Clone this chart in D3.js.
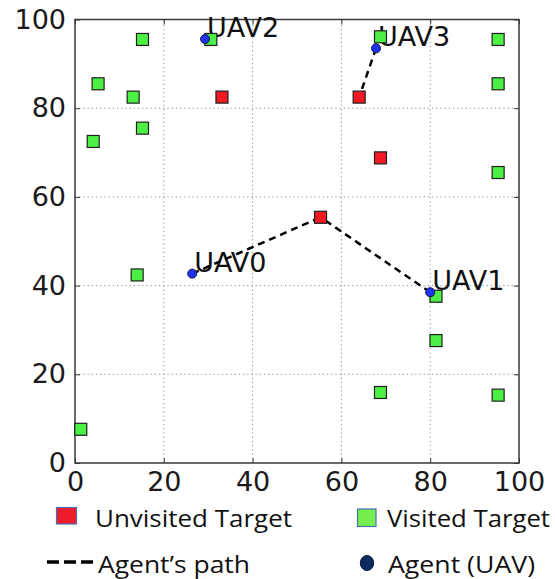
<!DOCTYPE html>
<html>
<head>
<meta charset="utf-8">
<script src="https://cdn.jsdelivr.net/npm/d3@7"></script>
<style>
  body { margin: 0; background: #fff; }
</style>
</head>
<body>
<div id="chart"></div>
<script>
// targets not yet visited
var unvisitedX = [33.1, 64.0, 68.8, 55.3];
var unvisitedY = [82.5, 82.5, 68.8, 55.4];

// targets already visited
var visitedX = [15.2, 30.6, 5.2, 13.1, 15.2, 4.1, 68.8, 95.3, 95.3, 95.3, 14.0, 1.3, 81.3, 81.3, 68.8, 95.3];
var visitedY = [95.5, 95.5, 85.5, 82.5, 75.5, 72.5, 96.1, 95.5, 85.5, 65.5, 42.4, 7.6, 37.6, 27.6, 15.9, 15.3];

// agents (UAVs)
var agentNames = ["UAV0", "UAV1", "UAV2", "UAV3"];
var agentX = [26.4, 80.0, 29.3, 67.8];
var agentY = [42.7, 38.5, 95.6, 93.5];

// planned paths: agent -> target
var pathFrom = [0, 1, 3];
var pathToX = [55.3, 55.3, 64.0];
var pathToY = [55.4, 55.4, 82.5];

var tickValues = [0, 20, 40, 60, 80, 100];
var legendLabels = ["Unvisited Target", "Visited Target", "Agent\u2019s path", "Agent (UAV)"];

var W = 555, H = 579;
var svg = d3.select("#chart").append("svg")
  .attr("width", W)
  .attr("height", H);

var x = d3.scaleLinear().domain([0, 100]).range([75, 519]);
var y = d3.scaleLinear().domain([0, 100]).range([463, 19.5]);

// grid
var grid = svg.append("g");
tickValues.slice(1, -1).forEach(function (t) {
  grid.append("line")
    .attr("x1", x(t)).attr("x2", x(t))
    .attr("y1", y(0)).attr("y2", y(100));
  grid.append("line")
    .attr("x1", x(0)).attr("x2", x(100))
    .attr("y1", y(t)).attr("y2", y(t));
});
grid.selectAll("line")
  .attr("stroke", "#8a8a8a")
  .attr("stroke-width", 1)
  .attr("stroke-dasharray", "1.2,3");

// axes, ticks pointing inward like old matplotlib
function styleAxis(g, showLabels) {
  g.select(".domain").remove();
  g.selectAll(".tick line").attr("stroke", "#333").attr("stroke-width", 1);
  g.selectAll("text")
    .style("font-family", "DejaVu Sans")
    .style("font-size", "27px")
    .attr("fill", "#1a1a1a");
  if (!showLabels) g.selectAll("text").remove();
}

svg.append("g")
  .attr("transform", "translate(0," + y(0) + ")")
  .call(d3.axisBottom(x).tickValues(tickValues).tickSizeInner(-5).tickSizeOuter(0).tickPadding(9))
  .call(styleAxis, true);
svg.append("g")
  .attr("transform", "translate(" + x(0) + ",0)")
  .call(d3.axisLeft(y).tickValues(tickValues).tickSizeInner(-5).tickSizeOuter(0).tickPadding(9))
  .call(styleAxis, true);
svg.append("g")
  .attr("transform", "translate(0," + y(100) + ")")
  .call(d3.axisTop(x).tickValues(tickValues).tickSizeInner(-5).tickSizeOuter(0))
  .call(styleAxis, false);
svg.append("g")
  .attr("transform", "translate(" + x(100) + ",0)")
  .call(d3.axisRight(y).tickValues(tickValues).tickSizeInner(-5).tickSizeOuter(0))
  .call(styleAxis, false);

svg.append("rect")
  .attr("x", x(0)).attr("y", y(100))
  .attr("width", x(100) - x(0))
  .attr("height", y(0) - y(100))
  .attr("fill", "none")
  .attr("stroke", "#3a3a3a")
  .attr("stroke-width", 1.5);

// agent labels
svg.append("g").selectAll("text")
  .data(agentNames)
  .enter()
  .append("text")
  .attr("x", function (d, i) { return x(agentX[i]); })
  .attr("y", function (d, i) { return y(agentY[i]); })
  .attr("dx", 2)
  .attr("dy", -2)
  .style("font-family", "DejaVu Sans")
  .style("font-size", "27px")
  .attr("fill", "#111")
  .text(function (d) { return d; });

// paths
svg.append("g").selectAll("line")
  .data(pathFrom)
  .enter()
  .append("line")
  .attr("x1", function (d) { return x(agentX[d]); })
  .attr("y1", function (d) { return y(agentY[d]); })
  .attr("x2", function (d, i) { return x(pathToX[i]); })
  .attr("y2", function (d, i) { return y(pathToY[i]); })
  .attr("stroke", "#000")
  .attr("stroke-width", 2.5)
  .attr("stroke-dasharray", "7,5");

var sq = 12;
// visited targets
svg.append("g").selectAll("rect")
  .data(visitedX)
  .enter()
  .append("rect")
  .attr("x", function (d) { return x(d) - sq / 2; })
  .attr("y", function (d, i) { return y(visitedY[i]) - sq / 2; })
  .attr("width", sq)
  .attr("height", sq)
  .attr("fill", "#4cf044")
  .attr("stroke", "#1f1f1f")
  .attr("stroke-width", 1.2);

// unvisited targets
svg.append("g").selectAll("rect")
  .data(unvisitedX)
  .enter()
  .append("rect")
  .attr("x", function (d) { return x(d) - sq / 2; })
  .attr("y", function (d, i) { return y(unvisitedY[i]) - sq / 2; })
  .attr("width", sq)
  .attr("height", sq)
  .attr("fill", "#f21a22")
  .attr("stroke", "#1f1f1f")
  .attr("stroke-width", 1.2);

// agents
svg.append("g").selectAll("circle")
  .data(agentX)
  .enter()
  .append("circle")
  .attr("cx", function (d) { return x(d); })
  .attr("cy", function (d, i) { return y(agentY[i]); })
  .attr("r", 4.5)
  .attr("fill", "#2233ee")
  .attr("stroke", "#10104a")
  .attr("stroke-width", 1);

// legend (drawn below the plot)
var lg = svg.append("g");
var lgFont = "'Open Sans', Lato, sans-serif";

lg.append("rect")
  .attr("x", 56.5).attr("y", 507.5).attr("width", 20).attr("height", 16.5)
  .attr("fill", "#ee1b2b").attr("stroke", "#4a6fb5").attr("stroke-width", 1.2);
lg.append("rect")
  .attr("x", 357.5).attr("y", 509).attr("width", 18.5).attr("height", 17.5)
  .attr("fill", "#76ee4e").attr("stroke", "#4a6fb5").attr("stroke-width", 1.2);
lg.append("line")
  .attr("x1", 47).attr("x2", 93).attr("y1", 562).attr("y2", 562)
  .attr("stroke", "#000").attr("stroke-width", 3.5).attr("stroke-dasharray", "12,5");
lg.append("ellipse")
  .attr("cx", 367).attr("cy", 563).attr("rx", 6.7).attr("ry", 7.5)
  .attr("fill", "#0c2a5e").attr("stroke", "#061a3a").attr("stroke-width", 1);

var lgPos = [[95, 526.7], [387, 526.7], [98, 572.5], [388, 572.5]];
var lgWidth = [197, 163, 152, 147];
lg.selectAll("text")
  .data(legendLabels)
  .enter()
  .append("text")
  .attr("x", function (d, i) { return lgPos[i][0]; })
  .attr("y", function (d, i) { return lgPos[i][1]; })
  .attr("textLength", function (d, i) { return lgWidth[i]; })
  .attr("lengthAdjust", "spacingAndGlyphs")
  .style("font-family", lgFont)
  .style("font-size", "23.5px")
  .attr("fill", "#111")
  .text(function (d) { return d; });
</script>
</body>
</html>
